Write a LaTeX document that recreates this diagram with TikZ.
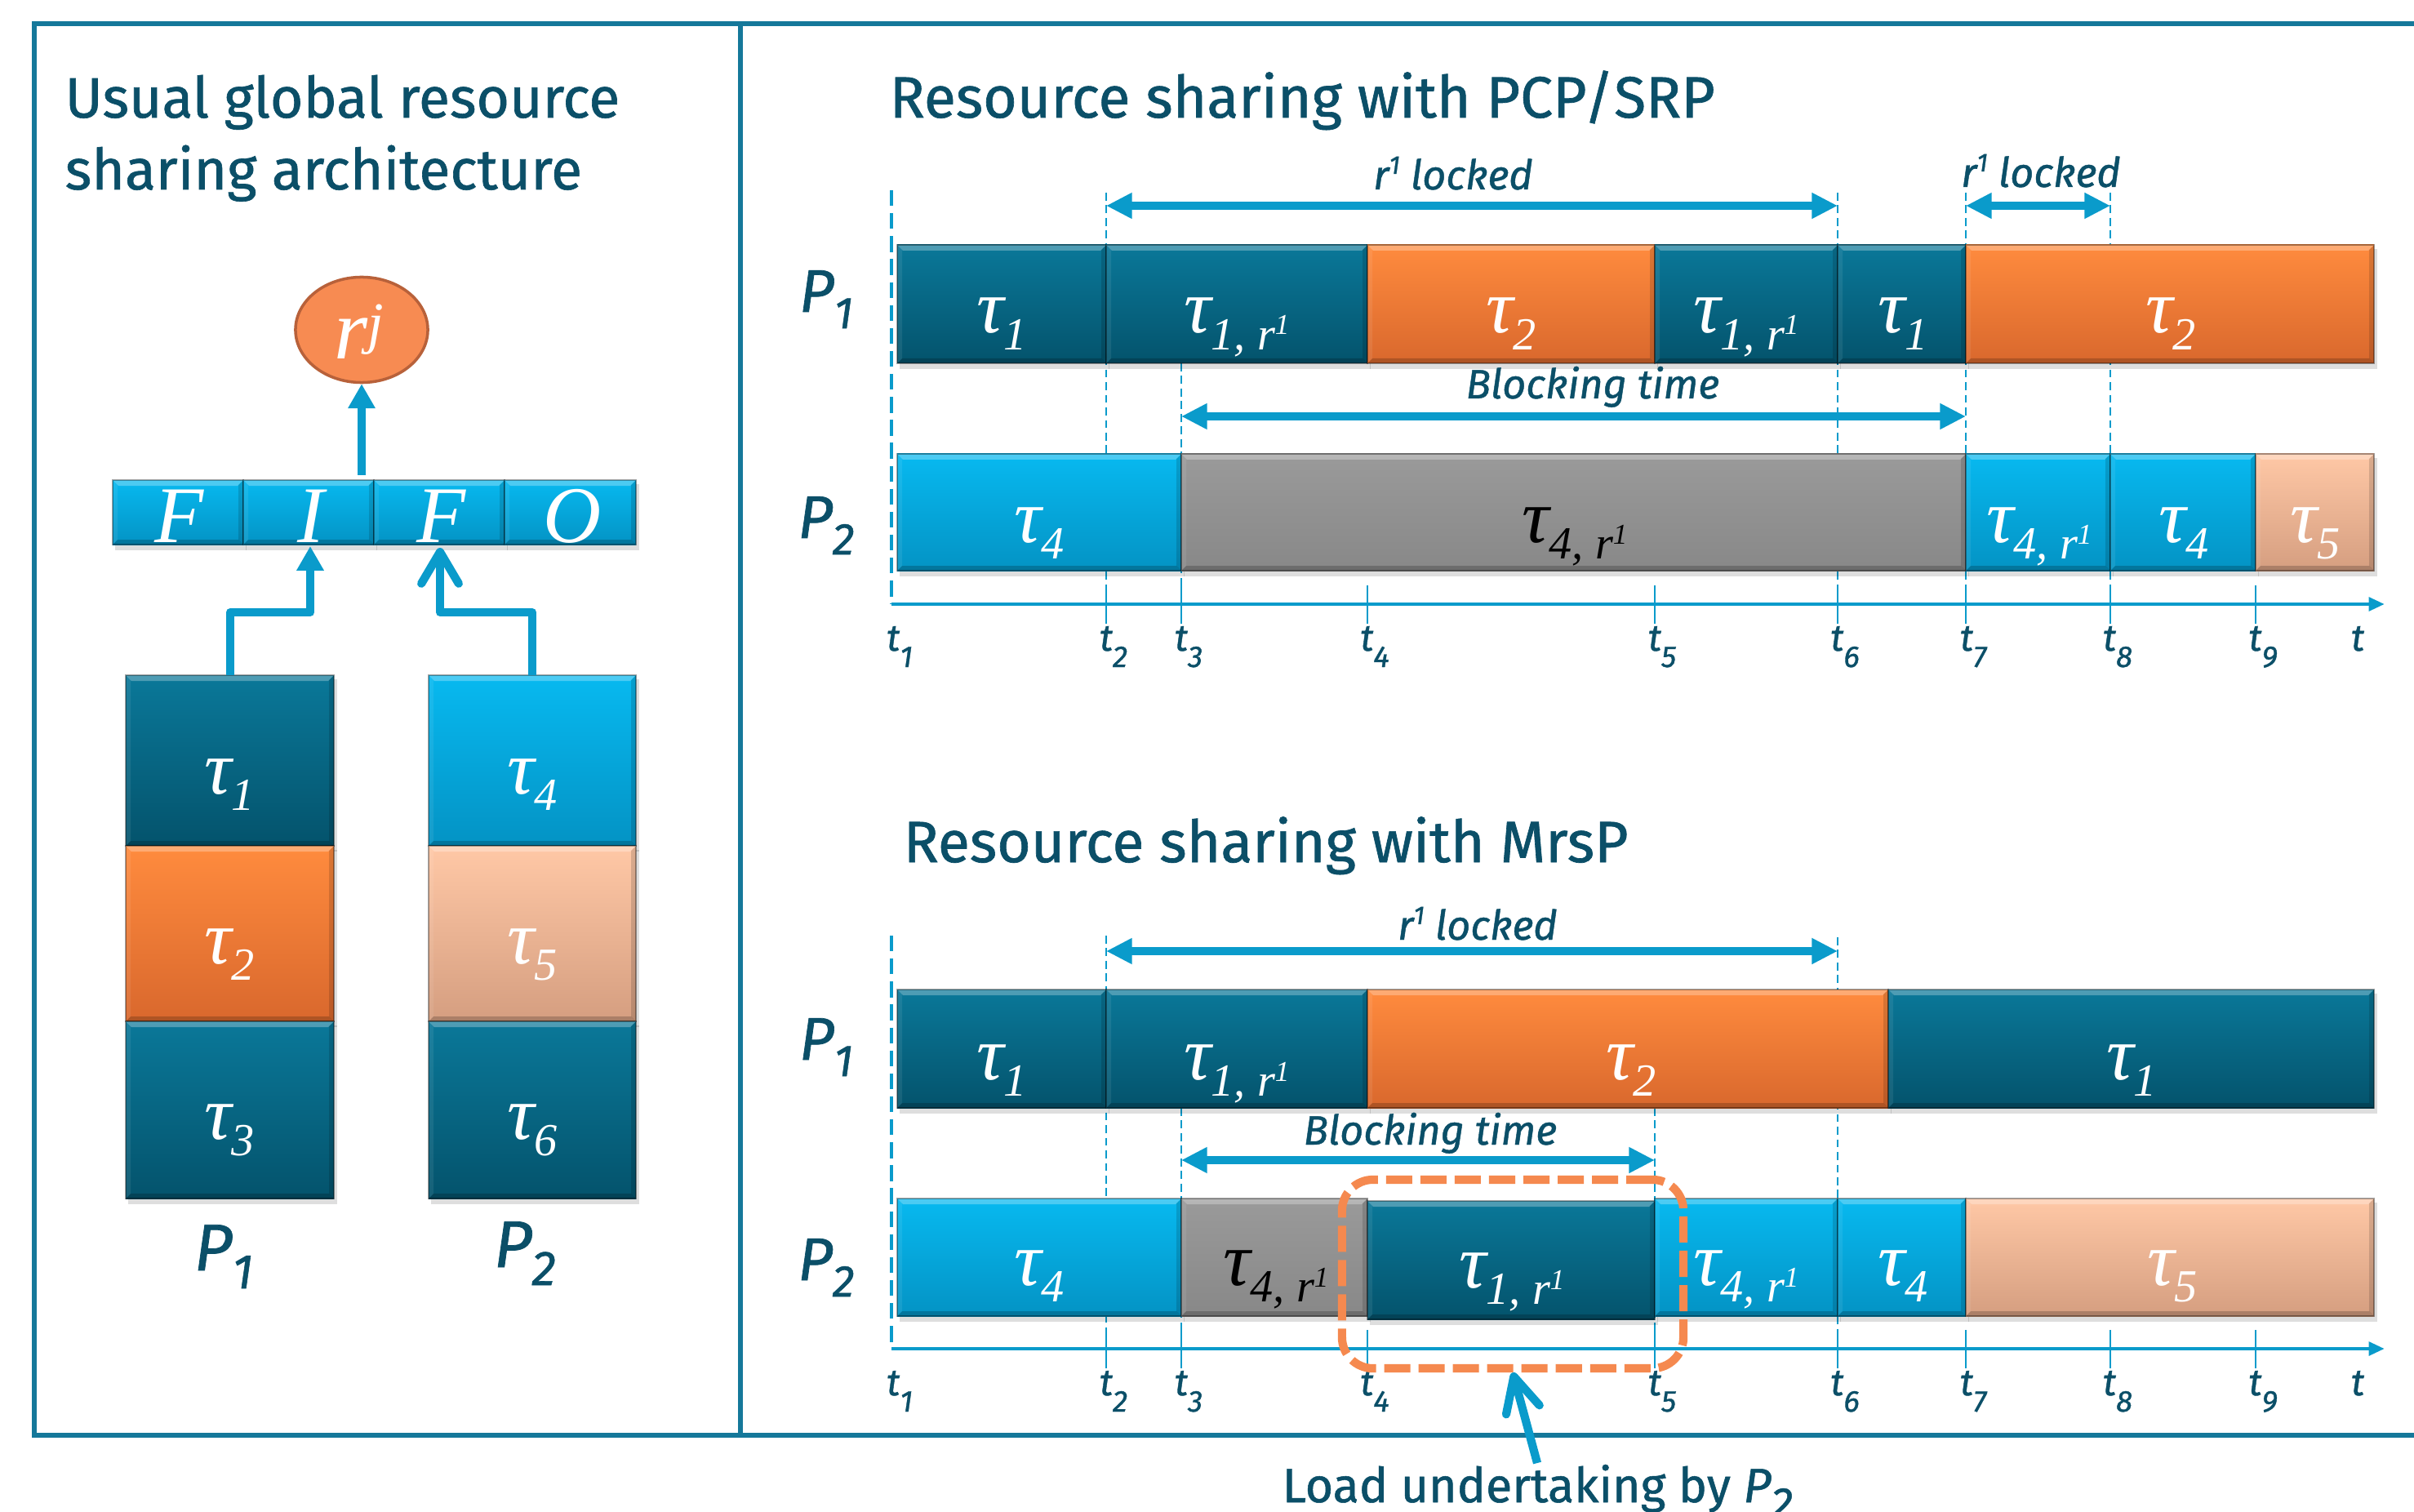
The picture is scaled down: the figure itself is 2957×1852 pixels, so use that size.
\documentclass[tikz,border=0pt]{standalone}
\usepackage{fontspec}
\setmainfont{Fira Sans}
\newfontfamily\tms{Liberation Serif}
\newfontfamily\sff[FakeBold=0.9]{Fira Sans}
\newfontfamily\sft[FakeBold=0.9]{Fira Sans}
\usetikzlibrary{arrows.meta,shapes.geometric}
\definecolor{txt}{HTML}{0B4F68}
\definecolor{frm}{HTML}{15789A}
\definecolor{acol}{HTML}{0A9BCB}
\definecolor{ornl}{HTML}{F5894F}
\definecolor{dkT}{HTML}{0A7899}\definecolor{dkB}{HTML}{04536C}
\definecolor{orT}{HTML}{FF8B3E}\definecolor{orB}{HTML}{D9682D}
\definecolor{cyT}{HTML}{07B9F0}\definecolor{cyB}{HTML}{0493C4}
\definecolor{peT}{HTML}{FFC8A6}\definecolor{peB}{HTML}{D59E80}
\definecolor{grT}{HTML}{9A9A9A}\definecolor{grB}{HTML}{888888}
\definecolor{ciT}{HTML}{F78B52}\definecolor{ciD}{HTML}{B8613A}
% segment: x1 x2 ytop ybot palette
\newcommand\seg[5]{%
  \fill[black,opacity=0.13] (#1+3,#3+5) rectangle (#2+4,#4+7);
  \fill[top color=#5T,bottom color=#5B] (#1,#3) rectangle (#2,#4);
  \fill[white,opacity=0.28] (#1,#3) -- (#2,#3) -- (#2-7,#3+7) -- (#1+7,#3+7) -- cycle;
  \fill[black,opacity=0.20] (#1,#4) -- (#2,#4) -- (#2-6,#4-6) -- (#1+6,#4-6) -- cycle;
  \fill[white,opacity=0.08] (#1,#3) -- (#1+6,#3+6) -- (#1+6,#4-6) -- (#1,#4) -- cycle;
  \fill[black,opacity=0.14] (#2,#3) -- (#2-6,#3+6) -- (#2-6,#4-6) -- (#2,#4) -- cycle;
  \draw[black,opacity=0.35,line width=0.4pt] (#1,#3) rectangle (#2,#4);
}
\newcommand\sbs[1]{\raisebox{-0.2cm}{\fontsize{16}{16}\selectfont #1}}
\newcommand\rs{r\raisebox{0.18cm}{\fontsize{10}{10}\selectfont 1}}
\newcommand\rsl{r\raisebox{0.19cm}{\fontsize{9}{9}\selectfont 1}}
\newcommand\tlb[1]{t\raisebox{-0.2cm}{\fontsize{10.5}{10.5}\selectfont #1}}
\newcommand\plb[1]{P\raisebox{-0.2cm}{\fontsize{15.5}{15.5}\selectfont #1}}
\newcommand\plbl[1]{P\raisebox{-0.22cm}{\fontsize{17}{17}\selectfont #1}}
\tikzset{
  frame/.style={draw=frm,line width=1.5pt},
  tau/.style={font=\tms\itshape\fontsize{26.5}{26.5}\selectfont,text=white,inner sep=0pt,anchor=base},
  taub/.style={tau,text=black},
  fifol/.style={font=\tms\itshape\fontsize{28}{28}\selectfont,text=white,inner sep=0pt,anchor=base},
  title/.style={font=\sft\fontsize{20.3}{25}\selectfont,text=txt,inner sep=0pt,anchor=base west},
  plab/.style={font=\sff\itshape\fontsize{21}{21}\selectfont,text=txt,inner sep=0pt,anchor=base},
  tlab/.style={font=\sff\itshape\fontsize{13}{13}\selectfont,text=txt,inner sep=0pt,anchor=base},
  alab/.style={font=\sff\itshape\fontsize{14.3}{14.3}\selectfont,text=txt,inner sep=0pt,anchor=base},
  darr/.style={draw=acol,line width=2.7pt,{Triangle[length=9pt,width=8.5pt]}-{Triangle[length=9pt,width=8.5pt]}},
  axisln/.style={draw=acol,line width=1.4pt,-{Triangle[length=5.5pt,width=4.6pt]}},
  guide/.style={draw=acol,line width=0.7pt,dash pattern=on 2.8pt off 1.6pt},
  yaxis/.style={draw=acol,line width=1.4pt,dash pattern=on 5.5pt off 2.5pt},
  tick/.style={draw=acol,line width=0.7pt},
  larr/.style={draw=acol,line width=2.9pt,line join=round,line cap=butt},
  barb/.style={-{Straight Barb[length=11pt,width=13pt,round]}},
  tri/.style={-{Triangle[length=8.5pt,width=9pt]}},
}
\begin{document}
\begin{tikzpicture}[x=0.01cm,y=-0.01cm]
\useasboundingbox (0,0) rectangle (2957,1852);
\clip (0,0) rectangle (2957,1852);
\fill[white] (0,0) rectangle (2957,1852);
% frame
\draw[frame] (2960,29) -- (42,29) -- (42,1758) -- (2960,1758);
\draw[frame] (907,29) -- (907,1758);

% ================= LEFT PANEL =================
\node[title,font=\sft\fontsize{19.8}{25}\selectfont] (ltitle1) at (79,144) {Usual global resource};
\node[title,font=\sft\fontsize{19.8}{25}\selectfont] (ltitle2) at (79,232) {sharing architecture};
% resource r^j
\node[ellipse,draw=ciD,line width=1pt,fill=ciT,minimum width=1.62cm,minimum height=1.29cm,inner sep=0pt] (rj) at (443,404) {};
\node[font=\tms\itshape\fontsize{30}{30}\selectfont,text=white,inner sep=0pt,anchor=base] (rjl) at (440,440) {r\raisebox{0.2cm}{\fontsize{20}{20}\selectfont j}};
% FIFO
\seg{138}{298}{588}{667}{cy}
\seg{298}{458}{588}{667}{cy}
\seg{458}{618}{588}{667}{cy}
\seg{618}{779}{588}{667}{cy}
\node[fifol] (ff1) at (220,664) {F};
\node[fifol] (ff2) at (381,664) {I};
\node[fifol] (ff3) at (541,664) {F};
\node[fifol] (ff4) at (701,664) {O};
\coordinate (fifotop) at (443,582);
\draw[larr,tri] (fifotop) -- (rj.south);
% task stacks
\seg{154}{409}{827}{1036}{dk}
\seg{154}{409}{1036}{1251}{or}
\seg{154}{409}{1251}{1468}{dk}
\seg{525}{779}{827}{1036}{cy}
\seg{525}{779}{1036}{1251}{pe}
\seg{525}{779}{1251}{1468}{dk}
\node[tau] (k1) at (281,972) {τ\sbs{1}};
\node[tau] (k2) at (281,1180) {τ\sbs{2}};
\node[tau] (k3) at (281,1395) {τ\sbs{3}};
\node[tau] (k4) at (652,972) {τ\sbs{4}};
\node[tau] (k5) at (652,1180) {τ\sbs{5}};
\node[tau] (k6) at (652,1395) {τ\sbs{6}};
\node[plab,font=\sff\itshape\fontsize{23}{23}\selectfont] (lp1) at (274,1556) {\plbl{1}};
\node[plab,font=\sff\itshape\fontsize{23}{23}\selectfont] (lp2) at (643,1552) {\plbl{2}};
% arrows into FIFO
\coordinate (b1t) at (282,827);
\coordinate (b4t) at (652,827);
\coordinate (lk) at (0,750);
\coordinate (fI) at (380,669);
\coordinate (fF) at (539,671);
\draw[larr,tri] (b1t) -- (b1t |- lk) -- (fI |- lk) -- (fI);
\draw[larr,barb] (b4t) -- (b4t |- lk) -- (fF |- lk) -- (fF);

% ================= TOP CHART (PCP/SRP) =================
\node[title] (ttitle) at (1089,144) {Resource sharing with PCP/SRP};
\foreach \n/\x in {1/1092,2/1355,3/1447,4/1675,5/2027,6/2251,7/2408,8/2585,9/2763}{
  \coordinate (A\n) at (\x,740);
  \coordinate (B\n) at (\x,1652);
}
\coordinate (Aend) at (2921,740);
\coordinate (Bend) at (2921,1652);
% guides top chart
\draw[guide] (A2) ++(0,-504) -- (A2);
\draw[guide] (A3) ++(0,-295) -- (A3);
\draw[guide] (A6) ++(0,-504) -- (A6);
\draw[guide] (A7) ++(0,-504) -- (A7);
\draw[guide] (A8) ++(0,-504) -- (A8);
\draw[yaxis] (A1) ++(0,-507) -- (A1);
\foreach \n in {2,...,9}{\draw[tick] (A\n) ++(0,-23) -- ++(0,47);}
\draw[axisln] (A1) -- (Aend);
% bars
\seg{1099}{1355}{300}{445}{dk}
\seg{1355}{1675}{300}{445}{dk}
\seg{1675}{2027}{300}{445}{or}
\seg{2027}{2251}{300}{445}{dk}
\seg{2251}{2408}{300}{445}{dk}
\seg{2408}{2908}{300}{445}{or}
\seg{1099}{1447}{556}{699}{cy}
\seg{1447}{2408}{556}{699}{gr}
\seg{2408}{2585}{556}{699}{cy}
\seg{2585}{2763}{556}{699}{cy}
\seg{2763}{2908}{556}{699}{pe}
\node[tau] (a1) at (1227,408) {τ\sbs{1}};
\node[tau] (a2) at (1515,408) {τ\sbs{1, \rs}};
\node[tau] (a3) at (1851,408) {τ\sbs{2}};
\node[tau] (a4) at (2139,408) {τ\sbs{1, \rs}};
\node[tau] (a5) at (2331,408) {τ\sbs{1}};
\node[tau] (a6) at (2659,408) {τ\sbs{2}};
\node[tau] (c1) at (1273,664) {τ\sbs{4}};
\node[taub] (c2) at (1929,664) {τ\sbs{4, \rs}};
\node[tau] (c3) at (2498,664) {τ\sbs{4, \rs}};
\node[tau] (c4) at (2675,664) {τ\sbs{4}};
\node[tau] (c5) at (2836,664) {τ\sbs{5}};
\node[plab] (tp1) at (1012,382) {\plb{1}};
\node[plab] (tp2) at (1012,659) {\plb{2}};
% arrows
\coordinate (ya) at (0,252);
\coordinate (yb) at (0,510);
\draw[darr] (A2 |- ya) -- (A6 |- ya);
\draw[darr] (A7 |- ya) -- (A8 |- ya);
\draw[darr] (A3 |- yb) -- (A7 |- yb);
\node[alab] (l1) at (1780,232) {\rsl\ locked};
\node[alab] (l2) at (2500,229) {\rsl\ locked};
\node[alab] (l3) at (1951,488) {Blocking time};
% time labels
\foreach \n/\x in {1/1102,2/1364,3/1456,4/1684,5/2036,6/2260,7/2417,8/2594,9/2772}{
  \node[tlab] (ta\n) at (\x,797) {\tlb{\n}};
}
\node[tlab] (tat) at (2888,797) {t};

% ================= BOTTOM CHART (MrsP) =================
\node[title] (btitle) at (1106,1056) {Resource sharing with MrsP};
\draw[guide] (B2) ++(0,-506) -- (B2);
\draw[guide] (B3) ++(0,-295) -- (B3);
\draw[guide] (B5) ++(0,-295) -- (B5);
\draw[guide] (B6) ++(0,-504) -- (B6);
\draw[yaxis] (B1) ++(0,-506) -- (B1);
\foreach \n in {2,...,9}{\draw[tick] (B\n) ++(0,-23) -- ++(0,47);}
\draw[axisln] (B1) -- (Bend);
\seg{1099}{1355}{1212}{1357}{dk}
\seg{1355}{1675}{1212}{1357}{dk}
\seg{1675}{2313}{1212}{1357}{or}
\seg{2313}{2908}{1212}{1357}{dk}
\seg{1099}{1447}{1468}{1612}{cy}
\seg{1447}{1675}{1468}{1612}{gr}
\seg{1675}{2027}{1471}{1616}{dk}
\seg{2027}{2251}{1468}{1612}{cy}
\seg{2251}{2408}{1468}{1612}{cy}
\seg{2408}{2908}{1468}{1612}{pe}
\node[tau] (d1) at (1227,1322) {τ\sbs{1}};
\node[tau] (d2) at (1515,1322) {τ\sbs{1, \rs}};
\node[tau] (d3) at (1998,1322) {τ\sbs{2}};
\node[tau] (d4) at (2611,1322) {τ\sbs{1}};
\node[tau] (e1) at (1273,1574) {τ\sbs{4}};
\node[taub] (e2) at (1563,1574) {τ\sbs{4, \rs}};
\node[tau] (e3) at (1852,1577) {τ\sbs{1, \rs}};
\node[tau] (e4) at (2139,1574) {τ\sbs{4, \rs}};
\node[tau] (e5) at (2331,1574) {τ\sbs{4}};
\node[tau] (e6) at (2661,1574) {τ\sbs{5}};
\node[plab] (bp1) at (1012,1298) {\plb{1}};
\node[plab] (bp2) at (1012,1568) {\plb{2}};
\coordinate (yc) at (0,1165);
\coordinate (yd) at (0,1421);
\draw[darr] (B2 |- yc) -- (B6 |- yc);
\draw[darr] (B3 |- yd) -- (B5 |- yd);
\node[alab] (l4) at (1810,1151) {\rsl\ locked};
\node[alab] (l5) at (1752,1402) {Blocking time};
\foreach \n/\x in {1/1102,2/1364,3/1456,4/1684,5/2036,6/2260,7/2417,8/2594,9/2772}{
  \node[tlab] (tb\n) at (\x,1709) {\tlb{\n}};
}
\node[tlab] (tbt) at (2888,1709) {t};
% load undertaking box
\node[draw=ornl,line width=2.9pt,dash pattern=on 0.32cm off 0.1cm,rounded corners=0.38cm,
      minimum width=4.18cm,minimum height=2.31cm,inner sep=0pt] (lu) at (1853,1560.5) {};
\node[font=\sff\fontsize{16.8}{16.8}\selectfont,text=txt,inner sep=0pt,anchor=base west] (ldtxt) at (1570,1840)
  {Load undertaking by {\itshape\plb{2}}};
\coordinate (ldtail) at (1883,1792);
\draw[larr,line width=2.9pt,-{Straight Barb[length=12pt,width=12pt,round]}] (ldtail) -- (lu.south);
\end{tikzpicture}
\end{document}
